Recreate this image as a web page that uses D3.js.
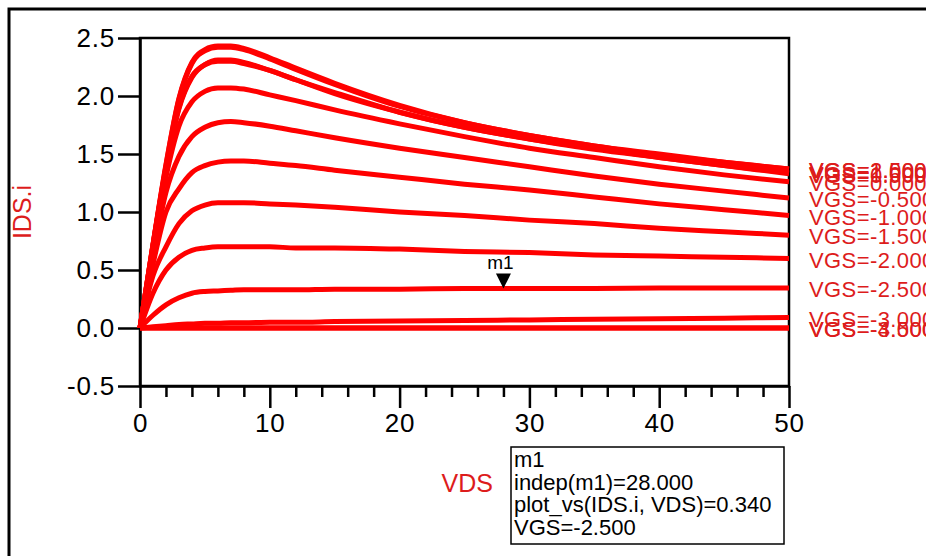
<!DOCTYPE html>
<html>
<head>
<meta charset="utf-8">
<script src="https://cdn.jsdelivr.net/npm/d3@7"></script>
<style>
  body { margin: 0; background: #fff; }
  svg { display: block; font-family: "Liberation Sans", Arial, sans-serif; }
</style>
</head>
<body>
<div id="chart"></div>
<script>
// VDS sweep points (V)
const vds = [0, 1, 2, 3, 4, 5, 6, 7, 8, 10, 12, 15, 20, 25, 30, 35, 40, 45, 50];

// IDS.i (A), one array per VGS
const idsP20 = [0, 0.72, 1.41, 1.98, 2.29, 2.40, 2.43, 2.43, 2.41, 2.33, 2.24, 2.11, 1.92, 1.77, 1.66, 1.57, 1.50, 1.43, 1.37];
const idsP15 = [0, 0.72, 1.40, 1.97, 2.28, 2.39, 2.42, 2.42, 2.40, 2.32, 2.23, 2.10, 1.91, 1.77, 1.66, 1.57, 1.49, 1.43, 1.37];
const idsP10 = [0, 0.71, 1.38, 1.90, 2.17, 2.27, 2.31, 2.31, 2.29, 2.22, 2.14, 2.03, 1.86, 1.73, 1.63, 1.55, 1.47, 1.40, 1.34];
const idsP05 = [0, 0.71, 1.37, 1.89, 2.16, 2.27, 2.30, 2.30, 2.28, 2.22, 2.14, 2.02, 1.86, 1.73, 1.63, 1.54, 1.47, 1.40, 1.33];
const idsZ00 = [0, 0.68, 1.30, 1.74, 1.95, 2.04, 2.07, 2.07, 2.06, 2.01, 1.96, 1.88, 1.76, 1.65, 1.55, 1.47, 1.39, 1.32, 1.26];
const idsN05 = [0, 0.62, 1.17, 1.48, 1.65, 1.73, 1.77, 1.78, 1.77, 1.74, 1.70, 1.64, 1.55, 1.47, 1.39, 1.31, 1.24, 1.18, 1.12];
const idsN10 = [0, 0.55, 1.00, 1.20, 1.34, 1.40, 1.43, 1.44, 1.44, 1.42, 1.40, 1.36, 1.30, 1.24, 1.19, 1.13, 1.07, 1.02, 0.97];
const idsN15 = [0, 0.45, 0.70, 0.90, 1.01, 1.06, 1.08, 1.08, 1.08, 1.07, 1.06, 1.04, 1.00, 0.97, 0.93, 0.90, 0.86, 0.83, 0.80];
const idsN20 = [0, 0.30, 0.50, 0.61, 0.67, 0.69, 0.70, 0.70, 0.70, 0.70, 0.69, 0.69, 0.68, 0.66, 0.65, 0.63, 0.62, 0.61, 0.60];
const idsN25 = [0, 0.11, 0.20, 0.26, 0.30, 0.315, 0.32, 0.325, 0.33, 0.33, 0.33, 0.335, 0.335, 0.34, 0.34, 0.34, 0.345, 0.345, 0.345];
const idsN30 = [0, 0.01, 0.02, 0.03, 0.035, 0.04, 0.04, 0.045, 0.045, 0.05, 0.05, 0.055, 0.06, 0.065, 0.07, 0.075, 0.08, 0.085, 0.09];
const idsN35 = [0, 0, 0, 0, 0, 0, 0, 0, 0, 0, 0, 0, 0, 0, 0, 0, 0, 0, 0];
const idsN40 = [0, 0, 0, 0, 0, 0, 0, 0, 0, 0, 0, 0, 0, 0, 0, 0, 0, 0, 0];

const vgs = [2.0, 1.5, 1.0, 0.5, 0.0, -0.5, -1.0, -1.5, -2.0, -2.5, -3.0, -3.5, -4.0];
const idsAll = [idsP20, idsP15, idsP10, idsP05, idsZ00, idsN05, idsN10, idsN15, idsN20, idsN25, idsN30, idsN35, idsN40];

const yTicks = [-0.5, 0.0, 0.5, 1.0, 1.5, 2.0, 2.5];
const xTicks = [0, 10, 20, 30, 40, 50];
const xMinor = [2, 4, 6, 8, 12, 14, 16, 18, 22, 24, 26, 28, 32, 34, 36, 38, 42, 44, 46, 48];

// marker m1
const m1 = { vds: 28, ids: 0.34, vgs: -2.5 };
const m1Lines = ["m1", "indep(m1)=28.000", "plot_vs(IDS.i, VDS)=0.340", "VGS=-2.500"];

const width = 926;
const height = 556;
const margin = { top: 38, right: 137, bottom: 170, left: 140 };

// ADS style numbers: plain hyphen for minus
const fmt = (spec) => (v) => d3.format(spec)(v).replace("\u2212", "-");

const svg = d3
  .select("#chart")
  .append("svg")
  .attr("width", width)
  .attr("height", height)
  .attr("viewBox", [0, 0, width, height]);

// outer frame (runs off the right/bottom edge)
svg
  .append("path")
  .attr("d", `M9,${height + 5}V9H${width + 5}`)
  .attr("fill", "none")
  .attr("stroke", "#000")
  .attr("stroke-width", 3);

const x = d3.scaleLinear().domain([0, 50]).range([margin.left, width - margin.right]);
const y = d3.scaleLinear().domain([-0.5, 2.5]).range([height - margin.bottom, margin.top]);

const red = "#ff0000";
const textRed = "#dd1c1c";

// plot frame
svg
  .append("rect")
  .attr("x", x(0))
  .attr("y", y(2.5))
  .attr("width", x(50) - x(0))
  .attr("height", y(-0.5) - y(2.5))
  .attr("fill", "none")
  .attr("stroke", "#000")
  .attr("stroke-width", 2.5);

// y axis
svg
  .append("g")
  .attr("transform", `translate(${x(0)},0)`)
  .call(
    d3.axisLeft(y)
      .tickValues(yTicks)
      .tickFormat(fmt(".1f"))
      .tickSize(22)
      .tickSizeOuter(0)
      .tickPadding(3)
  )
  .call((g) => g.selectAll("line").attr("stroke-width", 2.5))
  .call((g) => g.select(".domain").attr("stroke-width", 2.5))
  .call((g) => g.selectAll("text").attr("font-size", 26).attr("letter-spacing", 0.8).attr("fill", "#000"));

// x axis, minor ticks
svg
  .append("g")
  .attr("transform", `translate(0,${y(-0.5)})`)
  .call(d3.axisBottom(x).tickValues(xMinor).tickSize(11).tickSizeOuter(0).tickFormat(""))
  .call((g) => g.select(".domain").remove())
  .call((g) => g.selectAll("line").attr("stroke-width", 2.5));

// x axis, major ticks
svg
  .append("g")
  .attr("transform", `translate(0,${y(-0.5)})`)
  .call(d3.axisBottom(x).tickValues(xTicks).tickSize(22).tickSizeOuter(0).tickPadding(6))
  .call((g) => g.select(".domain").attr("stroke-width", 2.5))
  .call((g) => g.selectAll("line").attr("stroke-width", 2.5))
  .call((g) => g.selectAll("text").attr("font-size", 26).attr("letter-spacing", 0.8).attr("fill", "#000"));

// curves
const line = d3
  .line()
  .x((d) => x(d[0]))
  .y((d) => y(d[1]))
  .curve(d3.curveMonotoneX);

const series = vgs.map((v, i) => ({ vgs: v, pts: vds.map((d, j) => [d, idsAll[i][j]]) }));

svg
  .append("g")
  .selectAll("path")
  .data(series.slice().reverse())
  .join("path")
  .attr("fill", "none")
  .attr("stroke", red)
  .attr("stroke-width", 5)
  .attr("stroke-linejoin", "round")
  .attr("d", (d) => line(d.pts));

// trace labels at the right end
svg
  .append("g")
  .selectAll("text")
  .data(series)
  .join("text")
  .attr("x", x(50) + 20)
  .attr("y", (d) => y(d.pts[d.pts.length - 1][1]))
  .attr("dy", "0.42em")
  .attr("font-size", 22)
  .attr("letter-spacing", 0.4)
  .attr("fill", textRed)
  .text((d) => `VGS=${fmt(".3f")(d.vgs)}`);

// axis titles
svg
  .append("text")
  .attr("transform", `translate(31,${y(1.0)}) rotate(-90)`)
  .attr("text-anchor", "middle")
  .attr("font-size", 25)
  .attr("fill", textRed)
  .text("IDS.i");

svg
  .append("text")
  .attr("x", 493)
  .attr("y", 492)
  .attr("text-anchor", "end")
  .attr("font-size", 25)
  .attr("fill", textRed)
  .text("VDS");

// marker m1
const mx = x(m1.vds);
const my = y(m1.ids);
svg
  .append("path")
  .attr("d", `M${mx},${my}L${mx - 7.5},${my - 15}L${mx + 7.5},${my - 15}Z`)
  .attr("fill", "#000");
svg
  .append("text")
  .attr("x", mx - 3)
  .attr("y", my - 20)
  .attr("text-anchor", "middle")
  .attr("font-size", 19)
  .attr("fill", "#000")
  .text("m1");

// marker readout box
const box = svg.append("g").attr("transform", "translate(511,447)");
box
  .append("rect")
  .attr("width", 273)
  .attr("height", 97)
  .attr("fill", "#fff")
  .attr("stroke", "#000")
  .attr("stroke-width", 1.5);
box
  .selectAll("text")
  .data(m1Lines)
  .join("text")
  .attr("x", 3)
  .attr("y", (d, i) => 20 + i * 22.5)
  .attr("font-size", 22)
  .attr("fill", "#000")
  .text((d) => d);
</script>
</body>
</html>
